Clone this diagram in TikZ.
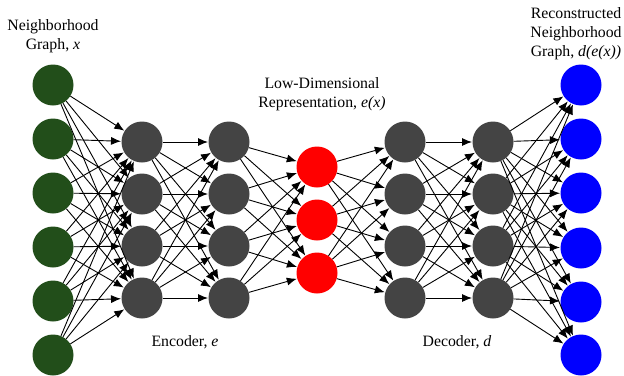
\documentclass[tikz,border=0pt]{standalone}
\usepackage{fontspec}
\setmainfont{Liberation Serif}
\usetikzlibrary{arrows.meta}
\definecolor{inputgreen}{RGB}{34,78,26}
\definecolor{hiddengray}{RGB}{68,68,68}
\definecolor{codered}{RGB}{255,0,0}
\definecolor{outputblue}{RGB}{0,0,255}
\tikzset{
  unit/.style={circle, minimum size=41pt, inner sep=0pt, draw=none},
  link/.style={line width=0.9pt, black, -{Latex[length=10pt,width=8pt]}, shorten >=0.3pt},
  caption/.style={align=center, font=\fontsize{15.8}{19}\selectfont, inner sep=0pt}
}
\begin{document}
\begin{tikzpicture}[x=1pt,y=-1pt]
\useasboundingbox (0,0) rectangle (624,375);
% input layer
\foreach \i/\y in {1/85,2/139,3/193,4/247,5/301,6/355}
  \node[unit, fill=inputgreen] (g\i) at (53,\y) {};
% encoder and decoder hidden layers
\foreach \i/\y in {1/142,2/194,3/246,4/298} {
  \node[unit, fill=hiddengray] (a\i) at (142,\y) {};
  \node[unit, fill=hiddengray] (b\i) at (229,\y) {};
  \node[unit, fill=hiddengray] (c\i) at (405,\y) {};
  \node[unit, fill=hiddengray] (d\i) at (493,\y) {};
}
% code layer
\foreach \i/\y in {1/167,2/220,3/273}
  \node[unit, fill=codered] (r\i) at (317,\y) {};
% output layer
\foreach \i/\y in {1/85,2/139,3/193,4/248,5/302,6/355}
  \node[unit, fill=outputblue] (o\i) at (581,\y) {};
% connections, every unit to every unit of the next layer
\foreach \i in {1,...,6} \foreach \j in {1,...,4} \draw[link] (g\i) -- (a\j);
\foreach \i in {1,...,4} \foreach \j in {1,...,4} \draw[link] (a\i) -- (b\j);
\foreach \i in {1,...,4} \foreach \j in {1,...,3} \draw[link] (b\i) -- (r\j);
\foreach \i in {1,...,3} \foreach \j in {1,...,4} \draw[link] (r\i) -- (c\j);
\foreach \i in {1,...,4} \foreach \j in {1,...,4} \draw[link] (c\i) -- (d\j);
\foreach \i in {1,...,4} \foreach \j in {1,...,6} \draw[link] (d\i) -- (o\j);
% captions
\node[caption] (lin) at (53,36) {Neighborhood\\Graph, \textit{x}};
\node[caption] (lcode) at (322,94) {Low-Dimensional\\Representation, \textit{e(x)}};
\node[caption] (lout) at (576,33.5) {Reconstructed\\Neighborhood\\Graph, \textit{d(e(x))}};
\node[caption] (lenc) at (185,342) {Encoder, \textit{e}};
\node[caption] (ldec) at (457,342) {Decoder, \textit{d}};
\end{tikzpicture}
\end{document}
